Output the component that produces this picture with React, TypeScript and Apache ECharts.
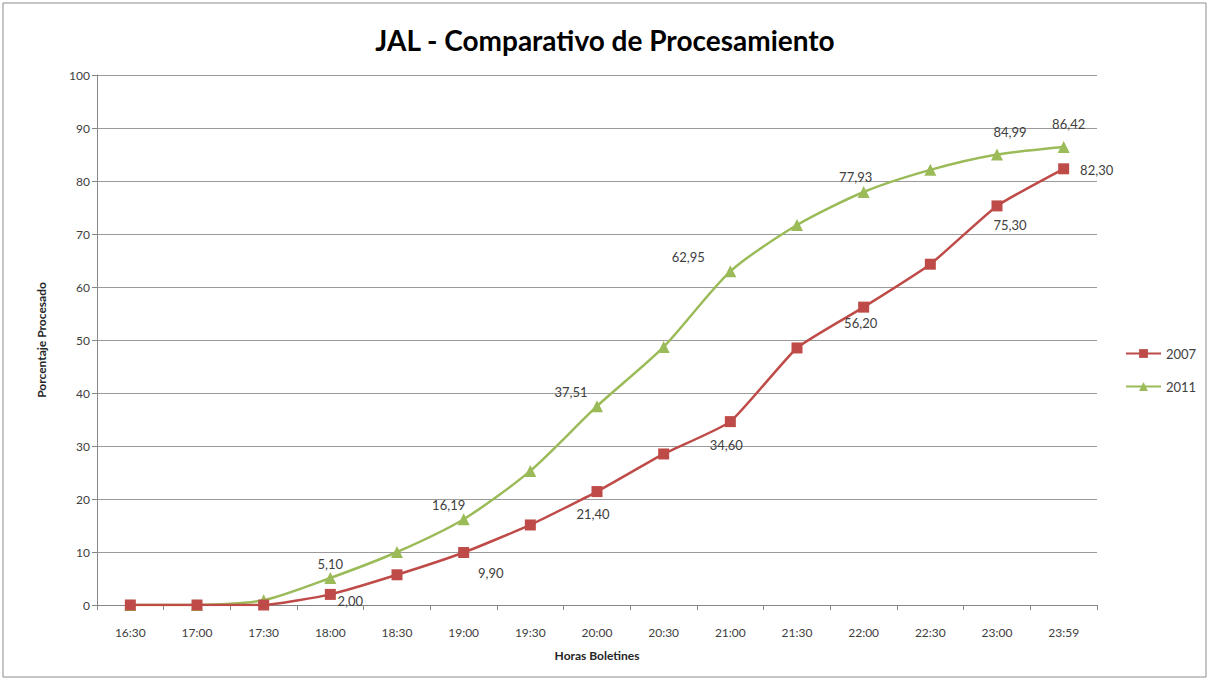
import React, { useEffect, useRef } from "react";
import * as echarts from "echarts";

const categories = ["16:30", "17:00", "17:30", "18:00", "18:30", "19:00", "19:30", "20:00", "20:30", "21:00", "21:30", "22:00", "22:30", "23:00", "23:59"];
const values2007 = [0, 0, 0, 2.0, 5.7, 9.9, 15.1, 21.4, 28.5, 34.6, 48.5, 56.2, 64.3, 75.3, 82.3];
const values2011 = [0, 0, 0.9, 5.1, 10.0, 16.19, 25.3, 37.51, 48.7, 62.95, 71.7, 77.93, 82.1, 84.99, 86.42];
const labeledIdx = [3, 5, 7, 9, 11, 13, 14];
const yTicks = [0, 10, 20, 30, 40, 50, 60, 70, 80, 90, 100];

const fmt = (v: number) => v.toFixed(2).replace(".", ",");

const off2011: Record<number, [number, number]> = {
  3: [0, -14], 5: [-15, -14], 7: [-26, -14], 9: [-42, -14], 11: [-8, -15], 13: [13, -23], 14: [5, -23],
};
const off2007: Record<number, [number, number]> = {
  3: [20, 7], 5: [27, 20], 7: [-4, 22], 9: [-4, 23], 11: [-3, 16], 13: [13, 19], 14: [33, 1],
};

function build(vals: number[], offs: Record<number, [number, number]>) {
  return vals.map((v, i) => {
    if (labeledIdx.includes(i)) {
      return {
        value: v,
        label: {
          show: true,
          position: "inside",
          offset: offs[i],
          formatter: fmt(v),
          color: "#404040",
          fontSize: 13,
          fontFamily: "Lato",
        },
      };
    }
    return { value: v };
  });
}

export default function App() {
  const ref = useRef<HTMLDivElement>(null);
  useEffect(() => {
    const chart = echarts.init(ref.current!, undefined, { renderer: "svg" });
    chart.setOption({
      animation: false,
      backgroundColor: "#ffffff",
      title: {
        text: "JAL - Comparativo de Procesamiento",
        left: "center",
        top: 21,
        textStyle: { fontFamily: "Lato", fontSize: 28, fontWeight: "bold", color: "#000" },
      },
      graphic: [
        {
          type: "rect",
          shape: { x: 3, y: 3, width: 1203, height: 674 },
          style: { fill: "none", stroke: "#8c8c8c", lineWidth: 1 },
          silent: true,
        },
      ],
      legend: {
        orient: "vertical",
        left: 1120,
        top: 342,
        itemGap: 20,
        itemWidth: 35,
        itemHeight: 11,
        textStyle: { fontFamily: "Lato", fontSize: 13, color: "#404040" },
        data: ["2007", "2011"],
      },
      grid: { left: 97, right: 113, top: 75, bottom: 76 },
      xAxis: {
        type: "category",
        data: categories,
        boundaryGap: true,
        name: "Horas Boletines",
        nameLocation: "middle",
        nameGap: 44,
        nameTextStyle: { fontFamily: "Lato", fontSize: 12, fontWeight: "bold", color: "#262626" },
        axisLine: { lineStyle: { color: "#868686" } },
        axisTick: { show: true, length: 5, lineStyle: { color: "#868686" } },
        axisLabel: { fontFamily: "Lato", fontSize: 12, color: "#404040", margin: 21 },
      },
      yAxis: {
        type: "value",
        min: 0,
        max: 100,
        interval: 10,
        name: "Porcentaje Procesado",
        nameLocation: "middle",
        nameGap: 50,
        nameTextStyle: { fontFamily: "Lato", fontSize: 12, fontWeight: "bold", color: "#262626" },
        axisLine: { show: true, lineStyle: { color: "#868686" } },
        axisTick: { show: true, length: 5, lineStyle: { color: "#868686" } },
        axisLabel: {
          fontFamily: "Lato",
          fontSize: 12,
          color: "#404040",
          margin: 7,
          formatter: (v: number) => (yTicks.includes(v) ? String(v) : ""),
        },
        splitLine: { lineStyle: { color: "#9a9a9a", width: 1 } },
      },
      series: [
        {
          name: "2007",
          type: "line",
          data: build(values2007, off2007),
          smooth: 0.15,
          symbol: "rect",
          symbolSize: 11,
          lineStyle: { color: "#BE4B48", width: 2.5 },
          itemStyle: { color: "#BE4B48" },
          z: 3,
        },
        {
          name: "2011",
          type: "line",
          data: build(values2011, off2011),
          smooth: 0.25,
          symbol: "triangle",
          symbolSize: 12,
          lineStyle: { color: "#9BBB59", width: 2.5 },
          itemStyle: { color: "#9BBB59" },
          z: 2,
        },
      ],
    });
    return () => chart.dispose();
  }, []);
  return (
    <div
      ref={ref}
      style={{ position: "absolute", left: 0, top: 0, width: 1210, height: 681 }}
    />
  );
}
